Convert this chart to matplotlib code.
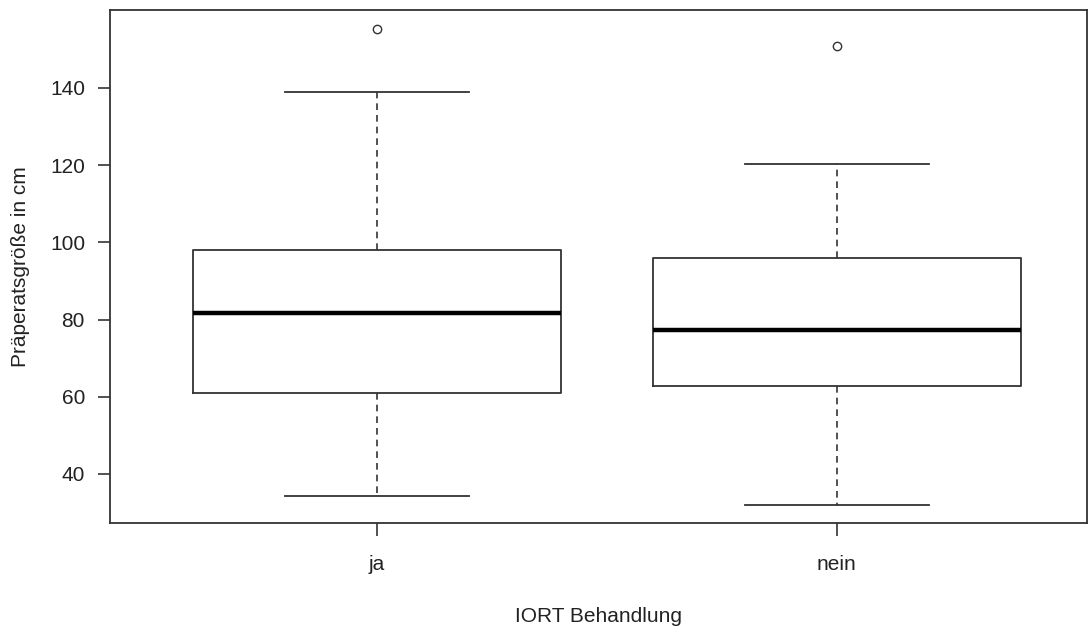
import matplotlib

matplotlib.use("Agg")
import matplotlib.pyplot as plt

plt.rcParams["font.family"] = ["Liberation Sans", "DejaVu Sans"]

groups = ["ja", "nein"]
q1 = [61.0, 62.8]
median = [81.6, 77.2]
q3 = [98.0, 96.0]
whisker_low = [34.3, 32.0]
whisker_high = [139.0, 120.2]
outliers = [[155.4], [151.0]]

LINE = "#333333"

stats = []
for i, name in enumerate(groups):
    stats.append(
        {
            "label": name,
            "q1": q1[i],
            "med": median[i],
            "q3": q3[i],
            "whislo": whisker_low[i],
            "whishi": whisker_high[i],
            "fliers": outliers[i],
        }
    )

fig = plt.figure(figsize=(10.89, 6.28), dpi=100)
ax = fig.add_axes([110 / 1089, 1 - 523 / 628, (1087 - 110) / 1089, (523 - 10) / 628])

ax.bxp(
    stats,
    positions=[1, 2],
    widths=0.8,
    showfliers=True,
    boxprops={"color": LINE, "linewidth": 1.3},
    medianprops={"color": "black", "linewidth": 3.2, "solid_capstyle": "butt"},
    whiskerprops={"color": LINE, "linewidth": 1.2, "linestyle": (0, (4, 3))},
    capprops={"color": LINE, "linewidth": 1.3},
    capwidths=0.4,
    flierprops={"marker": "o", "markersize": 6, "markerfacecolor": "none",
                "markeredgecolor": LINE, "markeredgewidth": 1.0},
)

ax.set_xlim(0.42, 2.544)
ax.set_ylim(27.3, 160.2)
ax.set_yticks([40, 60, 80, 100, 120, 140])
ax.set_xticks([1, 2])
ax.set_xticklabels(groups)

for side in ["left", "right", "top", "bottom"]:
    ax.spines[side].set_color(LINE)
    ax.spines[side].set_linewidth(1.3)

ax.tick_params(axis="both", length=9, width=1.2, color=LINE, labelsize=15, labelcolor="#222222")
ax.tick_params(axis="y", pad=9)
ax.tick_params(axis="x", pad=14)

ax.set_xlabel("IORT Behandlung", fontsize=15, color="#222222", labelpad=24)
ax.set_ylabel("Präperatsgröße in cm", fontsize=15, color="#222222", labelpad=14)

fig.savefig("out.png", dpi=100)
